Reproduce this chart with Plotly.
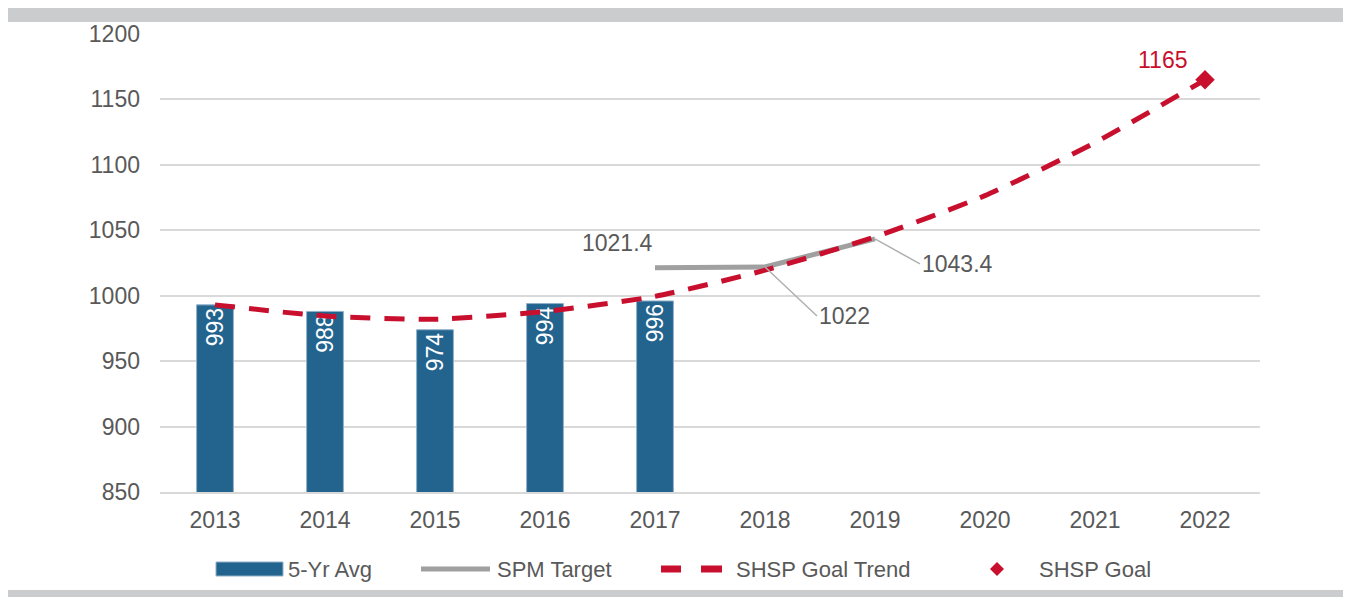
import plotly.graph_objects as go

years = [2013, 2014, 2015, 2016, 2017, 2018, 2019, 2020, 2021, 2022]
avg_years = [2013, 2014, 2015, 2016, 2017]
avg_values = [993, 988, 974, 994, 996]
spm_years = [2017, 2018, 2019]
spm_values = [1021.4, 1022, 1043.4]
trend_values = [993, 984.5, 982, 988, 999.5, 1019.5, 1045, 1076.5, 1117, 1165]
goal_year = [2022]
goal_value = [1165]
y_ticks = [850, 900, 950, 1000, 1050, 1100, 1150, 1200]
legend_names = ["5-Yr Avg", "SPM Target", "SHSP Goal Trend", "SHSP Goal"]

BLUE = "#23648F"
GRAY_LINE = "#A0A0A0"
RED = "#C8102E"
TXT = "#595959"
FONT = "Liberation Sans, Arial, sans-serif"
FS = 23

# page body has an 8px margin; figure sized to fit the 1351x597 window
OFF = 8
W, H = 1351 - OFF, 597 - OFF
# plot area in window pixels: x 160..1260, y 34..492
L, R, T, B = 160 - OFF, (1351 - 1260), 34 - OFF, (597 - 492)
PW, PH = W - L - R, H - T - B


def px(sx):
    return (sx - OFF - L) / PW


def py(sy):
    return (H - B - (sy - OFF)) / PH


fig = go.Figure()

fig.add_trace(go.Bar(
    x=avg_years, y=avg_values, name=legend_names[0],
    marker=dict(color=BLUE, line=dict(color="#8FB0C8", width=1)),
    width=0.335,
    text=[str(v) for v in avg_values],
    textposition="inside", insidetextanchor="end", textangle=-90,
    textfont=dict(color="white", size=FS, family=FONT),
))

fig.add_trace(go.Scatter(
    x=spm_years, y=spm_values, name=legend_names[1], mode="lines",
    line=dict(color=GRAY_LINE, width=5),
))

fig.add_trace(go.Scatter(
    x=years, y=trend_values, name=legend_names[2], mode="lines",
    line=dict(color=RED, width=5, dash="20px,14px", shape="spline", smoothing=0.6),
))

fig.add_trace(go.Scatter(
    x=goal_year, y=goal_value, name=legend_names[3], mode="markers",
    marker=dict(symbol="diamond", size=15, color=RED),
    cliponaxis=False,
))

# data labels
fig.add_annotation(x=spm_years[0], y=spm_values[0], text=str(spm_values[0]),
                   showarrow=False, xshift=-38, yshift=25,
                   font=dict(size=FS, color=TXT, family=FONT))
fig.add_annotation(x=spm_years[1], y=spm_values[1], text=str(spm_values[1]),
                   showarrow=True, arrowhead=0, arrowwidth=1.5, arrowcolor="#B0B0B0",
                   ax=52, ay=49, xanchor="left", standoff=0,
                   font=dict(size=FS, color=TXT, family=FONT))
fig.add_annotation(x=spm_years[2], y=spm_values[2], text=str(spm_values[2]),
                   showarrow=True, arrowhead=0, arrowwidth=1.5, arrowcolor="#B0B0B0",
                   ax=45, ay=25, xanchor="left", standoff=0,
                   font=dict(size=FS, color=TXT, family=FONT))
fig.add_annotation(x=goal_year[0], y=goal_value[0], text=str(goal_value[0]),
                   showarrow=False, xshift=-43, yshift=20,
                   font=dict(size=FS, color=RED, family=FONT))

# decorative gray bands
fig.add_shape(type="rect", xref="paper", yref="paper",
              x0=px(8), x1=px(1370), y0=py(22), y1=py(8),
              fillcolor="#CBCCCE", line=dict(width=0), layer="below")
fig.add_shape(type="rect", xref="paper", yref="paper",
              x0=px(8), x1=px(1370), y0=py(600), y1=py(590),
              fillcolor="#CBCCCE", line=dict(width=0), layer="below")

# manual legend
ly = 569
fig.add_shape(type="rect", xref="paper", yref="paper",
              x0=px(216), x1=px(283), y0=py(576), y1=py(562),
              fillcolor=BLUE, line=dict(color="#8FB0C8", width=1))
fig.add_shape(type="line", xref="paper", yref="paper",
              x0=px(421), x1=px(490), y0=py(ly), y1=py(ly),
              line=dict(color=GRAY_LINE, width=5))
for a, b in [(661, 681), (701, 722)]:
    fig.add_shape(type="line", xref="paper", yref="paper",
                  x0=px(a), x1=px(b), y0=py(ly), y1=py(ly),
                  line=dict(color=RED, width=7))
dx, dy = 997, ly
fig.add_shape(type="path", xref="paper", yref="paper",
              path=(f"M {px(dx)},{py(dy - 7)} L {px(dx + 7)},{py(dy)} "
                    f"L {px(dx)},{py(dy + 7)} L {px(dx - 7)},{py(dy)} Z"),
              fillcolor=RED, line=dict(width=0))
for name, x0 in zip(legend_names, [286, 495, 734, 1037]):
    fig.add_annotation(xref="paper", yref="paper", x=px(x0), y=py(ly),
                       text=name, showarrow=False, xanchor="left", yanchor="middle",
                       font=dict(size=FS - 1, color=TXT, family=FONT))

fig.update_layout(
    width=W, height=H,
    margin=dict(l=L, r=R, t=T, b=B, autoexpand=False),
    paper_bgcolor="white", plot_bgcolor="white",
    font=dict(family=FONT, size=FS, color=TXT),
    showlegend=False,
)
fig.update_xaxes(
    range=[2012.5, 2022.5], tickmode="array", tickvals=years,
    ticktext=[str(y) for y in years], showgrid=False, zeroline=False,
    showline=True, linecolor="#D9D9D9", linewidth=2, ticks="",
    tickfont=dict(size=FS, color=TXT), ticklabelstandoff=6, automargin=False,
)
fig.update_yaxes(
    range=[850, 1200], tickmode="array", tickvals=y_ticks,
    showgrid=True, gridcolor="#D9D9D9", gridwidth=2, zeroline=False,
    showline=False, ticks="", tickfont=dict(size=FS, color=TXT),
    ticklabelstandoff=19, automargin=False,
)

fig.write_html("out.html")
